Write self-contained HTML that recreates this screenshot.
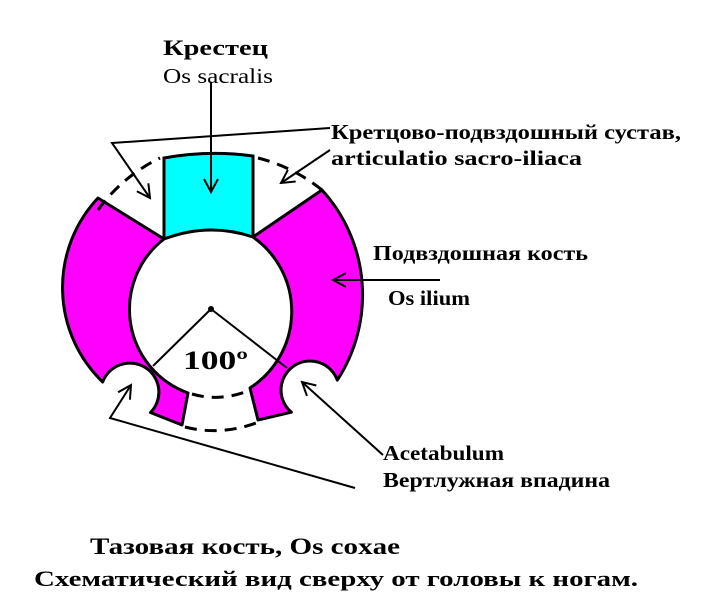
<!DOCTYPE html>
<html><head><meta charset="utf-8"><style>
html,body{margin:0;padding:0;background:#fff;}
svg{display:block}
text{font-family:"Liberation Serif",serif;font-weight:bold;fill:#000}
</style></head><body>
<svg width="712" height="606" viewBox="0 0 712 606" xmlns="http://www.w3.org/2000/svg">
<defs>
<marker id="ah" markerWidth="16" markerHeight="16" refX="14" refY="8" orient="auto" markerUnits="userSpaceOnUse">
<path d="M1,1 L14,8 L1,15" fill="none" stroke="#000" stroke-width="2"/></marker>
</defs>
<!-- sacrum -->
<path d="M164,158 Q209,150 253,156 L253,237 Q209,222 164,239 Z" fill="#00ffff" stroke="#000" stroke-width="3"/>
<!-- left ilium -->
<path d="M164,239 L98,198 A131,131 0 0 0 102.7,382 A29,29 0 1 1 150.5,412.5 L182,425 L188,393 A89,89 0 0 1 164,239 Z" fill="#ff00ff" stroke="#000" stroke-width="3" stroke-linejoin="round"/>
<!-- right ilium -->
<path d="M253,237 L322,190 A156,156 0 0 1 337.3,380.1 A29,29 0 1 0 291.4,412.2 L258,420 L250,388 A91,91 0 0 0 253,237 Z" fill="#ff00ff" stroke="#000" stroke-width="3" stroke-linejoin="round"/>
<!-- dashed -->
<g fill="none" stroke="#000" stroke-width="3" stroke-dasharray="12,8">
<path d="M98,210 A165,165 0 0 1 160,158"/>
<path d="M258,158 A165,165 0 0 1 322,190"/>
<path d="M192,394 Q219,402 248,391"/>
<path d="M185,427 Q220,436 256,423"/>
</g>
<!-- angle -->
<circle cx="211" cy="309" r="3" fill="#000"/>
<line x1="211" y1="309" x2="153" y2="366" stroke="#000" stroke-width="2"/>
<line x1="211" y1="309" x2="287" y2="368" stroke="#000" stroke-width="2"/>
<!-- arrows -->
<g fill="none" stroke="#000" stroke-width="2">
<line x1="211" y1="82" x2="211" y2="192" marker-end="url(#ah)"/>
<polyline points="330,128 112,143 150,198" marker-end="url(#ah)"/>
<line x1="330" y1="150" x2="281" y2="183" marker-end="url(#ah)"/>
<line x1="440" y1="280" x2="333" y2="280" marker-end="url(#ah)"/>
<line x1="383" y1="455" x2="302" y2="382" marker-end="url(#ah)"/>
<polyline points="355,488 110,418 131,385" marker-end="url(#ah)"/>
</g>
<!-- labels -->
<text x="163" y="55" font-size="22" textLength="105" lengthAdjust="spacingAndGlyphs">Крестец</text>
<text x="163" y="83" font-size="21" textLength="110" lengthAdjust="spacingAndGlyphs" style="font-weight:normal">Os sacralis</text>
<text x="331" y="139" font-size="21" textLength="350" lengthAdjust="spacingAndGlyphs">Кретцово-подвздошный сустав,</text>
<text x="331" y="165" font-size="21" textLength="251" lengthAdjust="spacingAndGlyphs">articulatio sacro-iliaca</text>
<text x="373" y="260" font-size="21" textLength="215" lengthAdjust="spacingAndGlyphs">Подвздошная кость</text>
<text x="388" y="305" font-size="21" textLength="82" lengthAdjust="spacingAndGlyphs">Os ilium</text>
<text x="183" y="369" font-size="26" textLength="65" lengthAdjust="spacingAndGlyphs">100º</text>
<text x="383" y="460" font-size="21" textLength="121" lengthAdjust="spacingAndGlyphs">Acetabulum</text>
<text x="383" y="487" font-size="21" textLength="227" lengthAdjust="spacingAndGlyphs">Вертлужная впадина</text>
<text x="90" y="554" font-size="23" textLength="310" lengthAdjust="spacingAndGlyphs">Тазовая кость,  Os coxae</text>
<text x="34" y="586" font-size="22" textLength="604" lengthAdjust="spacingAndGlyphs">Схематический вид сверху от головы к ногам.</text>
</svg>
</body></html>
